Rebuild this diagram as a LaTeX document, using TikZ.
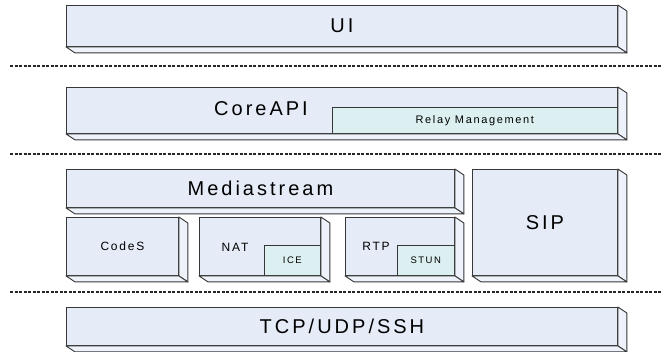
\documentclass[tikz,border=0pt]{standalone}
\usepackage{fontspec}
\setmainfont{Liberation Sans}[LetterSpace=15]
\definecolor{facefill}{RGB}{229,235,247}
\definecolor{sidefill}{RGB}{238,242,250}
\definecolor{insetfill}{RGB}{221,240,241}
\definecolor{edgegray}{RGB}{55,55,55}
\begin{document}
\begin{tikzpicture}[x=1pt, y=-1pt,
	tier/.style={draw=edgegray, fill=facefill, line width=0.9pt, inner sep=0pt, anchor=north west},
	subbox/.style={draw=edgegray, fill=insetfill, line width=0.6pt, inner sep=0pt, anchor=north west},
	bevel/.style={draw=edgegray, fill=sidefill, line width=0.9pt, line join=round},
	divider/.style={draw=black!85, line width=1.2pt, dash pattern=on 3pt off 1.5pt},
	bigtext/.style={font=\fontsize{20}{20}\selectfont},
	midtext/.style={font=\fontsize{12}{12}\selectfont},
	smalltext/.style={font=\fontsize{9.5}{9.5}\selectfont}]
		\useasboundingbox (0,0) rectangle (664,352);
		\foreach \y in {66,154,292}
			\draw[divider] (10,\y) -- (662,\y);
		\node[tier, minimum width=551pt, minimum height=41pt, bigtext] (ui) at (66,5) {UI};
		\node[tier, minimum width=551pt, minimum height=46pt] (core) at (66,87) {};
		\node[bigtext] (coreapi) at (261,109) {CoreAPI};
		\node[subbox, minimum width=285pt, minimum height=26pt, font=\fontsize{11}{11}\selectfont] (relay) at (332,107) {Relay Management};
		\node[tier, minimum width=388pt, minimum height=38pt, bigtext] (media) at (66,169) {Mediastream};
		\node[tier, minimum width=112pt, minimum height=58pt, midtext] (codes) at (66,217) {CodeS};
		\node[tier, minimum width=121pt, minimum height=58pt] (nat) at (199,217) {};
		\node[midtext] (nattext) at (235,247) {NAT};
		\node[subbox, minimum width=56pt, minimum height=30pt, smalltext] (ice) at (264,245) {ICE};
		\node[tier, minimum width=109pt, minimum height=58pt] (rtp) at (345,217) {};
		\node[midtext] (rtptext) at (376,246) {RTP};
		\node[subbox, minimum width=57pt, minimum height=30pt, smalltext] (stun) at (397,245) {STUN};
		\node[tier, minimum width=145pt, minimum height=106pt, bigtext] (sip) at (472,169) {SIP};
		\node[tier, minimum width=551pt, minimum height=38pt, bigtext] (tcp) at (66,307) {TCP/UDP/SSH};
		\foreach \b in {ui,core,media,codes,nat,rtp,sip,tcp} {
			\draw[bevel] (\b.north east) -- ++(9,6) -- ([shift={(9,6)}]\b.south east) -- (\b.south east) -- cycle;
			\draw[bevel] (\b.south west) -- ++(9,6) -- ([shift={(9,6)}]\b.south east) -- (\b.south east) -- cycle;
		}
	\end{tikzpicture}
\end{document}
